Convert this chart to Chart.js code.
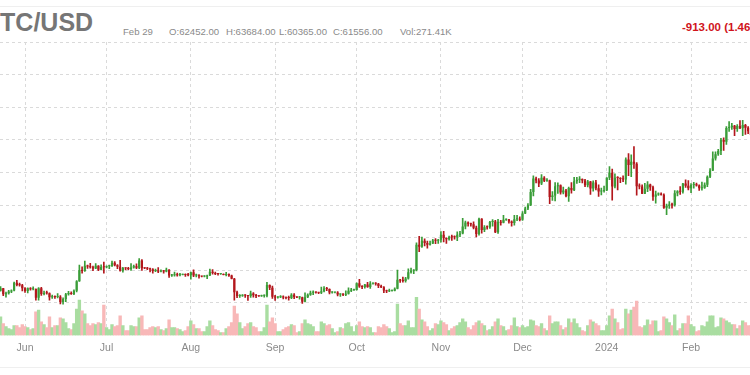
<!DOCTYPE html>
<html><head><meta charset="utf-8">
<script src="https://cdn.jsdelivr.net/npm/chart.js@4.4.1/dist/chart.umd.min.js"></script>
<style>
html,body{margin:0;padding:0;width:750px;height:375px;overflow:hidden;background:#fff;font-family:"Liberation Sans",Arial,Helvetica,sans-serif;}
#wrap{position:absolute;left:0;top:0;width:790px;height:375px;}
#c{position:absolute;left:0;top:0;}
.t{position:absolute;white-space:nowrap;line-height:1;}
.s{font-size:9.6px;color:#8a8a8a;top:26.5px;}
.hl{position:absolute;left:0;width:750px;height:1px;background:#efefef;}
</style></head>
<body>
<div id="wrap">
  <div class="hl" style="top:6px"></div>
  <div class="hl" style="top:367px"></div>
  <span class="t" style="left:-18px;top:9.5px;font-size:25px;font-weight:bold;color:#767676;">BTC/USD</span>
  <span class="t s" style="left:123px;">Feb 29</span>
  <span class="t s" style="left:169px;">O:62452.00</span>
  <span class="t s" style="left:226px;">H:63684.00</span>
  <span class="t s" style="left:279px;">L:60365.00</span>
  <span class="t s" style="left:333px;">C:61556.00</span>
  <span class="t s" style="left:400px;">Vol:271.41K</span>
  <span class="t" style="left:682px;top:22px;font-size:11.5px;font-weight:bold;color:#d0141c;">-913.00 (1.46%)</span>
  <canvas id="c" width="790" height="375"></canvas>
</div>
<script>
// Day index 0 = 1 Jun 2023; first candle is 23 May 2023
const FIRST_DAY = -9;
const monthStarts = [0, 30, 61, 92, 122, 153, 183, 214, 245];
const monthLabels = ['Jun', 'Jul', 'Aug', 'Sep', 'Oct', 'Nov', 'Dec', '2024', 'Feb'];

const opens = [
  26850,27220,26330,26480,26720,26870,28080,27740,27700,
  27220,26820,27250,27070,27120,25760,27240,26350,26500,26480,25850,25940,25900,25920,25120,25580,26330,26510,26340,26840,28310,30010,29890,30690,30550,30470,30270,30690,30080,30480,
  30470,30590,30620,31160,30770,30510,29900,30350,30290,30170,30410,30620,30390,31480,30310,30290,30230,30140,29860,29910,29800,29900,29790,30080,29180,29230,29350,29210,29310,29360,29280,
  29230,29700,29180,29180,29080,29040,29040,29180,29770,29560,29430,29400,29410,29280,29410,29170,28700,26630,26050,26100,26190,26120,26050,26430,26160,26060,26010,26090,26100,27730,27300,
  25930,25800,25870,25970,25820,25780,25750,26240,25900,25830,25840,25160,25840,26230,26530,26610,26570,26530,26760,27210,27130,26570,26580,26580,26260,26300,26220,26370,26860,26910,
  26970,27990,27500,27430,27790,27410,27950,27970,27940,27590,27390,26870,26760,26860,26860,27160,28520,28410,28330,28720,29680,29920,29990,33900,33600,34500,34160,33910,34090,34540,34500,
  34670,35440,34940,34730,35080,35050,35040,35420,35640,36700,37300,37130,37060,36500,35540,37880,36160,36600,36590,37390,37480,35810,37420,37290,37720,37800,37480,37250,37830,37860,
  37720,38690,39480,39970,41980,44080,43750,43290,44170,43730,43790,41240,41450,42890,43020,41930,42240,41360,42620,42270,43650,43870,43990,43740,43020,43610,42520,43440,42580,42070,42140,
  42280,44180,44950,42850,44180,44160,43970,43930,46970,46120,46630,46340,42890,42850,41730,42510,43150,42740,41260,41620,41660,41580,39570,39890,40080,39960,41820,42120,42040,43300,42940,
  42580,43080,43190,43000,42580,42660,43090,44340,45290,47150,47770,48290,49960,49700,51800,51940,52160,51660,52120,51780,52280,51850,51320,50730,51570,51730,54480,57080,62452
];
const highs = [
  27490,27220,26630,26930,26990,28190,28450,28030,27830,
  27350,27300,27320,27440,27140,27350,27370,26800,26780,26530,26180,26070,26400,26100,25750,26460,26770,26680,26990,28400,30790,30500,31380,30800,31040,30650,31000,30700,30840,31260,
  30660,30770,31380,31320,30870,31500,30440,30380,30430,31030,30790,30970,31800,31630,30390,30440,30330,30230,30180,30400,30050,29980,30340,30100,29380,29700,29570,29530,29410,29450,29520,
  29730,30040,29420,29310,29110,29170,29250,30190,30100,29700,29530,29470,29450,29670,29450,29240,28770,26800,26270,26270,26260,26140,26780,26550,26300,26120,26180,26220,28140,27740,27580,
  26130,25970,26120,26080,25880,26020,26430,26420,25940,25980,25880,26540,26390,26800,26840,26680,26620,27430,27490,27380,27160,26740,26640,26730,26430,26400,26830,27300,27230,27090,
  28050,28600,27650,27830,28130,28270,28020,28100,27990,27730,27480,26950,27100,26960,27290,30000,28610,28960,28890,30200,30340,30100,34200,35200,35090,34820,34450,34460,34740,34860,34720,
  35940,35970,34950,35240,35380,35280,35900,35960,37960,37520,37400,37230,37420,36760,37980,37920,36850,36790,37510,37760,37650,37820,37640,38400,37890,37820,37570,38400,38430,38180,
  38980,39690,40200,42420,44460,44280,44040,44680,44360,44050,43840,42070,43420,43400,43090,42730,42410,42740,43450,44240,44230,44340,44020,43920,43780,43620,43700,43800,43110,42610,42900,
  44200,45880,45500,44790,44360,44200,44490,47220,47900,47690,48970,46500,43250,43080,43330,43580,43190,42900,42130,41880,41870,41700,40140,40540,40290,42220,42200,42840,43310,43870,43750,
  43280,43480,43370,43110,43520,43400,44490,45570,48160,48150,48530,50240,50320,52020,52790,52540,52230,52320,52950,52980,52370,52030,51540,51680,51950,54910,57580,63910,63684
];
const lows = [
  26800,26090,25880,26340,26560,26810,27570,27560,26840,
  26610,26530,26950,26970,25400,25400,26140,26220,26330,25390,25670,25670,25730,24830,24780,25180,26180,26280,26260,26670,28270,29560,29830,30270,30320,29940,30230,29930,30060,29540,
  30340,30250,30570,30660,30220,29860,29710,30050,30090,29970,30320,30220,30250,29970,30250,30080,29720,29530,29760,29610,29740,29550,29740,28910,29050,29100,29090,29120,29260,29030,29110,
  28620,28990,28960,28770,28980,28960,28700,29150,29380,29330,29250,29360,29260,29120,29060,28650,25420,25800,25810,25980,25820,25370,25810,25860,25780,25980,25970,25880,25920,27030,25690,
  25370,25720,25800,25600,25580,25390,25630,25650,25800,25560,24920,25130,25780,26130,26230,26480,26400,26390,26680,26860,26380,26480,26510,26060,25990,26110,26110,26340,26710,26890,
  26950,27350,27160,27250,27360,27200,27860,27700,27310,27310,26560,26560,26690,26800,26830,27120,28120,28150,28180,28610,29530,29460,29880,32860,33480,33730,33390,33850,34050,34070,34090,
  34290,34340,34120,34600,34560,34750,34520,35130,35560,36350,36740,36770,36350,35100,35380,35690,35920,36280,36400,36760,35760,35640,36890,37260,37640,37200,36760,36910,37580,37550,
  37630,38660,39300,39900,41410,43370,42830,43100,43590,43600,40220,40690,40630,41760,41670,41690,41250,40530,41830,42200,43300,43420,43390,42800,42770,41640,42140,42330,41330,41540,41970,
  42180,43900,40750,42630,42300,43420,43590,43210,44500,44350,45600,41500,42460,41720,41720,42050,42220,40700,40280,41460,41500,39460,38510,39490,39500,39830,41400,41620,41820,42690,42310,
  41880,42600,42900,42220,42270,42560,42820,44200,45260,46880,47590,47730,48370,49300,51290,51580,50630,51270,51700,50630,50820,50940,50540,50640,51290,50910,54460,56770,60365
];
const closes = [
  27220,26330,26480,26720,26870,28080,27740,27700,27220,
  26820,27250,27070,27120,25760,27240,26350,26500,26480,25850,25940,25900,25920,25120,25580,26330,26510,26340,26840,28310,30010,29890,30690,30550,30470,30270,30690,30080,30480,30470,
  30590,30620,31160,30770,30510,29900,30350,30290,30170,30410,30620,30390,31480,30310,30290,30230,30140,29860,29910,29800,29900,29790,30080,29180,29230,29350,29210,29310,29360,29280,29230,
  29700,29180,29180,29080,29040,29040,29180,29770,29560,29430,29400,29410,29280,29410,29170,28700,26630,26050,26100,26190,26120,26050,26430,26160,26060,26010,26090,26100,27730,27300,25930,
  25800,25870,25970,25820,25780,25750,26240,25900,25830,25840,25160,25840,26230,26530,26610,26570,26530,26760,27210,27130,26570,26580,26580,26260,26300,26220,26370,26860,26910,26970,
  27990,27500,27430,27790,27410,27950,27970,27940,27590,27390,26870,26760,26860,26860,27160,28520,28410,28330,28720,29680,29920,29990,33900,33600,34500,34160,33910,34090,34540,34500,34670,
  35440,34940,34730,35080,35050,35040,35420,35640,36700,37300,37130,37060,36500,35540,37880,36160,36600,36590,37390,37480,35810,37420,37290,37720,37800,37480,37250,37830,37860,37720,
  38690,39480,39970,41980,44080,43750,43290,44170,43730,43790,41240,41450,42890,43020,41930,42240,41360,42620,42270,43650,43870,43990,43740,43020,43610,42520,43440,42580,42070,42140,42280,
  44180,44950,42850,44180,44160,43970,43930,46970,46120,46630,46340,42890,42850,41730,42510,43150,42740,41260,41620,41660,41580,39570,39890,40080,39960,41820,42120,42040,43300,42940,42580,
  43080,43190,43000,42580,42660,43090,44340,45290,47150,47770,48290,49960,49700,51800,51940,52160,51660,52120,51780,52280,51850,51320,50730,51570,51730,54480,57080,62452,61556
];
// volume, thousands
const volumes = [
  152,96,72,56,48,80,80,64,88,
  72,64,48,56,192,208,112,88,64,152,64,80,80,144,136,104,56,48,96,216,288,200,176,96,80,96,88,104,96,248,
  64,48,88,72,80,160,80,40,40,80,72,72,144,160,48,48,64,72,64,72,48,40,56,128,64,64,56,48,32,40,72,
  120,88,56,56,32,32,72,120,80,48,40,24,24,56,72,104,240,176,104,56,72,96,104,72,64,32,32,64,248,112,144,
  96,32,32,48,64,72,88,80,24,32,96,128,96,88,72,32,32,112,96,80,88,56,24,32,64,56,96,104,72,32,
  80,112,72,64,72,64,24,24,72,64,88,72,56,24,32,256,96,80,80,120,64,64,312,216,128,112,72,40,56,96,88,
  120,104,88,40,56,72,80,104,136,112,64,48,80,104,120,96,80,40,48,72,112,136,80,72,40,48,80,144,72,64,
  80,64,72,128,120,80,72,96,56,40,160,96,112,112,80,48,64,136,104,136,96,64,40,32,80,128,112,96,80,40,40,
  80,160,216,136,104,48,56,216,176,208,232,280,72,64,80,128,88,120,120,32,40,152,136,104,80,168,40,56,96,96,160,
  88,72,32,40,80,72,112,160,160,64,72,144,136,120,104,88,88,56,80,120,104,80,80,48,48,144,200,240,271.41
];

const UP = '#3a9d38', DOWN = '#b3171c';
const VUP = '#a9dda1', VDOWN = '#f8b8b8';
const GRID = '#dadada';

const days = opens.map((_, i) => FIRST_DAY + i);
const isUp = opens.map((o, i) => closes[i] >= o);

Chart.defaults.font.family = '"Liberation Sans", Arial, Helvetica, sans-serif';

new Chart(document.getElementById('c'), {
  type: 'bar',
  data: {
    datasets: [
      {
        label: 'body',
        data: days.map((d, i) => ({x: d, y: [opens[i], closes[i]]})),
        backgroundColor: isUp.map(u => u ? UP : DOWN),
        barPercentage: 0.8, categoryPercentage: 1,
        grouped: false, minBarLength: 1, yAxisID: 'y'
      },
      {
        label: 'wick',
        data: days.map((d, i) => ({x: d, y: [lows[i], highs[i]]})),
        backgroundColor: isUp.map(u => u ? UP : DOWN),
        barThickness: 1, grouped: false, yAxisID: 'y'
      },
      {
        label: 'volume',
        data: days.map((d, i) => ({x: d, y: volumes[i]})),
        backgroundColor: isUp.map(u => u ? VUP : VDOWN),
        barPercentage: 1, categoryPercentage: 1,
        grouped: false, yAxisID: 'yv'
      }
    ]
  },
  options: {
    responsive: false,
    animation: false,
    layout: {padding: {top: 42, bottom: 15, left: 0, right: 0}},
    plugins: {legend: {display: false}, tooltip: {enabled: false}},
    scales: {
      x: {
        type: 'linear',
        min: -9.2, max: 281.4,
        offset: false,
        grid: {color: GRID, drawTicks: false, offset: false},
        border: {display: false, dash: [3, 3]},
        afterBuildTicks: (scale) => { scale.ticks = monthStarts.map(v => ({value: v})); },
        ticks: {
          autoSkip: false, maxRotation: 0, padding: 6,
          color: '#8a8a8a', font: {size: 10.5},
          callback: (v) => { const k = monthStarts.indexOf(v); return k >= 0 ? monthLabels[k] : ''; }
        }
      },
      y: {
        position: 'right',
        min: 20000, max: 65000,
        ticks: {display: false, stepSize: 5000},
        grid: {
          drawTicks: false,
          color: (ctx) => (ctx.tick && ctx.tick.value === 20000) ? 'rgba(0,0,0,0)' : GRID
        },
        border: {display: false, dash: [3, 3]}
      },
      yv: {
        display: false,
        min: 0, max: 2400
      }
    }
  }
});
</script>
</body></html>
